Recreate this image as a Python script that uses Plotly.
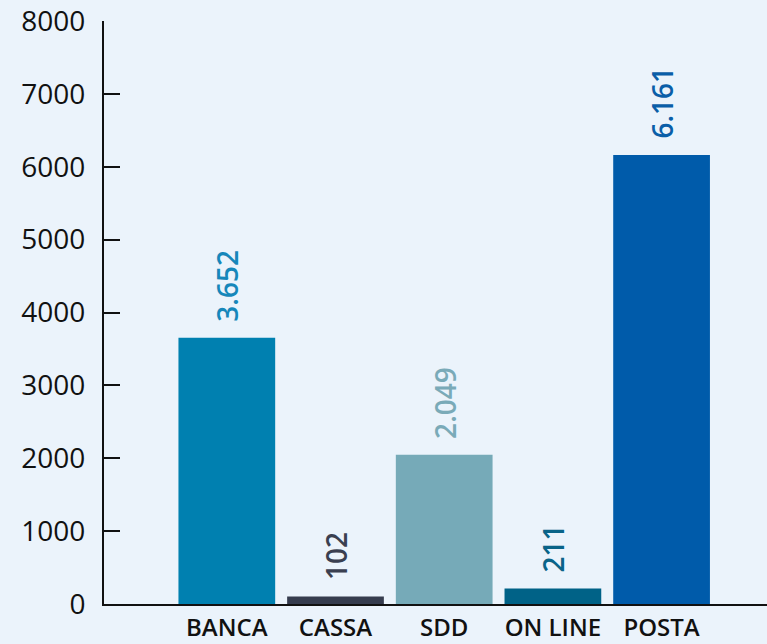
import plotly.graph_objects as go

categories = ["BANCA", "CASSA", "SDD", "ON LINE", "POSTA"]
values = [3652, 102, 2049, 211, 6161]
bar_colors = ["#0080B0", "#363C4E", "#76AAB8", "#006287", "#005BAA"]
label_colors = ["#1687BA", "#3A3F50", "#7AAAB8", "#0A6488", "#0A5EA8"]
y_ticks = [0, 1000, 2000, 3000, 4000, 5000, 6000, 7000, 8000]

# Italian-style thousands separator
labels = [f"{v:,}".replace(",", ".") for v in values]
xs = list(range(len(categories)))

fig = go.Figure(
    go.Bar(
        x=xs,
        y=values,
        marker=dict(color=bar_colors, line=dict(width=0)),
        width=0.89,
        hoverinfo="skip",
    )
)

# rotated value labels sitting above each bar
for x, v, t, c in zip(xs, values, labels, label_colors):
    fig.add_annotation(
        x=x, y=v, text=t, textangle=-90, showarrow=False,
        xanchor="center", yanchor="bottom", yshift=14,
        font=dict(family="Open Sans", size=28, color=c, weight=600),
    )

bg = "#EBF3FB"
fig.update_layout(
    width=767,
    height=644,
    paper_bgcolor=bg,
    plot_bgcolor=bg,
    margin=dict(l=104, r=0, t=21, b=40),
    showlegend=False,
    font=dict(family="Open Sans", color="#111111"),
    xaxis=dict(
        range=[-1.13, 4.97],
        tickmode="array",
        tickvals=xs,
        ticktext=categories,
        ticks="",
        showgrid=False,
        zeroline=False,
        showline=True,
        linecolor="#111111",
        linewidth=2,
        tickfont=dict(family="Open Sans", size=24, color="#111111", weight=600),
        ticklabelstandoff=1,
    ),
    yaxis=dict(
        range=[0, 8000],
        tickmode="array",
        tickvals=y_ticks,
        ticks="inside",
        ticklen=16,
        tickwidth=2,
        tickcolor="#111111",
        showgrid=False,
        zeroline=False,
        showline=True,
        linecolor="#111111",
        linewidth=2,
        tickfont=dict(family="Open Sans", size=28, color="#111111"),
        ticklabelstandoff=11,
    ),
)

fig.write_html("out.html")
